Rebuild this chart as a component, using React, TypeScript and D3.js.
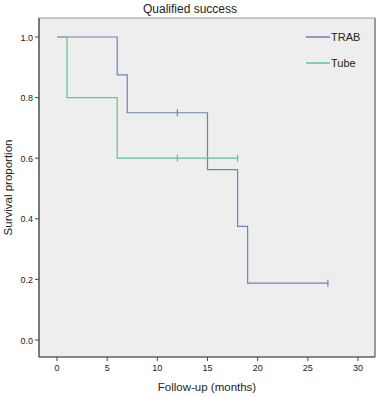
import React from "react";
import * as d3 from "d3";

const trabTimes = [0, 6, 7, 15, 18, 19, 27];
const trabSurv = [1.0, 0.875, 0.75, 0.5625, 0.375, 0.1875, 0.1875];
const trabCensored = [12, 27];

const tubeTimes = [0, 1, 6, 18];
const tubeSurv = [1.0, 0.8, 0.6, 0.6];
const tubeCensored = [12, 18];

const xTicks = [0, 5, 10, 15, 20, 25, 30];
const yTicks = [0.0, 0.2, 0.4, 0.6, 0.8, 1.0];

const seriesNames = ["TRAB", "Tube"];
const seriesColors = ["#6d82ba", "#62c48f"];

const W = 381;
const H = 397;
const frame = { left: 39, top: 18, right: 375, bottom: 357 };

export default function App() {
  const x = d3.scaleLinear().domain([0, 30]).range([57, 358]);
  const y = d3.scaleLinear().domain([0, 1]).range([340, 37]);

  const stepLine = d3
    .line<[number, number]>()
    .x((d) => x(d[0]))
    .y((d) => y(d[1]))
    .curve(d3.curveStepAfter);

  const survAt = (times: number[], surv: number[], t: number) => {
    let v = surv[0];
    for (let i = 0; i < times.length; i++) if (times[i] <= t) v = surv[i];
    return v;
  };

  const series = [
    { times: trabTimes, surv: trabSurv, cens: trabCensored },
    { times: tubeTimes, surv: tubeSurv, cens: tubeCensored },
  ];

  const font = "Liberation Sans, Arial, sans-serif";

  return (
    <svg
      width={W}
      height={H}
      style={{ position: "absolute", left: 0, top: 0, background: "#fff" }}
      fontFamily={font}
    >
      <rect width={W} height={H} fill="#fff" />
      <text x={190} y={13} textAnchor="middle" fontSize={12} fill="#222">
        Qualified success
      </text>
      <rect
        x={frame.left}
        y={frame.top}
        width={frame.right - frame.left}
        height={frame.bottom - frame.top}
        fill="#efeeef"
        stroke="#9a9a9a"
        strokeWidth={1}
      />
      <line x1={frame.right} x2={frame.right} y1={frame.top} y2={frame.bottom} stroke="#8a8a8a" strokeWidth={1.5} />
      <line x1={frame.left} x2={frame.left} y1={frame.top} y2={frame.bottom} stroke="#444" strokeWidth={1.2} />
      <line x1={frame.left} x2={frame.right} y1={frame.bottom} y2={frame.bottom} stroke="#444" strokeWidth={1.2} />

      {yTicks.map((t) => (
        <g key={"y" + t}>
          <line x1={frame.left - 4} x2={frame.left} y1={y(t)} y2={y(t)} stroke="#444" />
          <text x={frame.left - 6} y={y(t) + 3.5} textAnchor="end" fontSize={9} fill="#222">
            {t.toFixed(1)}
          </text>
        </g>
      ))}
      {xTicks.map((t) => (
        <g key={"x" + t}>
          <line x1={x(t)} x2={x(t)} y1={frame.bottom} y2={frame.bottom + 4} stroke="#444" />
          <text x={x(t)} y={frame.bottom + 14} textAnchor="middle" fontSize={9} fill="#222">
            {t}
          </text>
        </g>
      ))}
      <text x={207} y={391} textAnchor="middle" fontSize={11.5} fill="#222">
        Follow-up (months)
      </text>
      <text
        transform={`translate(12, ${(frame.top + frame.bottom) / 2}) rotate(-90)`}
        textAnchor="middle"
        fontSize={11.5}
        fill="#222"
      >
        Survival proportion
      </text>

      {series.map((s, i) => {
        const pts: [number, number][] = s.times.map((t, j) => [t, s.surv[j]]);
        return (
          <g key={"s" + i}>
            <path d={stepLine(pts) || ""} fill="none" stroke={seriesColors[i]} strokeWidth={1.2} />
            {s.cens.map((c) => {
              const v = survAt(s.times, s.surv, c);
              return (
                <line
                  key={c}
                  x1={x(c)}
                  x2={x(c)}
                  y1={y(v) - 3.5}
                  y2={y(v) + 3.5}
                  stroke={seriesColors[i]}
                  strokeWidth={1.2}
                />
              );
            })}
          </g>
        );
      })}

      {seriesNames.map((n, i) => (
        <g key={n}>
          <line x1={306} x2={330} y1={37 + i * 26} y2={37 + i * 26} stroke={seriesColors[i]} strokeWidth={1.5} />
          <text x={331} y={41 + i * 26} fontSize={11} fill="#222">
            {n}
          </text>
        </g>
      ))}
    </svg>
  );
}
